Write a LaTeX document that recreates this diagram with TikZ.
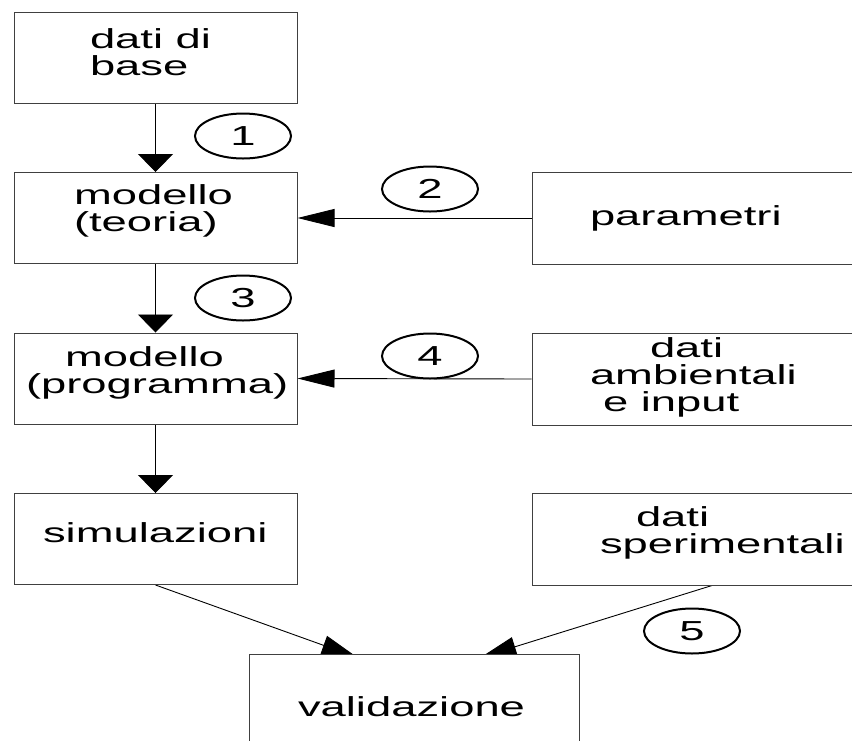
\documentclass[tikz,border=0pt]{standalone}
\usepackage{fontspec}
\usetikzlibrary{arrows.meta,shapes.geometric,calc}
\newfontfamily\wfont[FakeStretch=1.65]{Liberation Sans}
\newcommand\txtfont{\wfont\fontsize{27.5}{23.5}\selectfont}
\newcommand\numfont{\wfont\fontsize{27.5}{28}\selectfont}
\newcommand\boxtxt[3]{\makebox[0pt][l]{\hspace*{#1pt}\raisebox{#2pt}[0pt][0pt]{\begin{tabular}[b]{@{}l@{}}#3\end{tabular}}}}
\pgfdeclarelayer{bg}
\pgfsetlayers{bg,main}
\begin{document}
\begin{tikzpicture}[x=1pt,y=-1pt,
  bx/.style={rectangle,draw=black!75,line width=1pt,fill=white,inner sep=0pt,
    minimum width=283pt,minimum height=91pt,font=\txtfont},
  wbx/.style={bx,minimum width=360pt,minimum height=92pt},
  num/.style={ellipse,draw=black,line width=2pt,inner sep=0pt,
    minimum width=96pt,minimum height=45pt,font=\numfont},
  varr/.style={line width=0.9pt,-{Triangle[length=18pt,width=35pt]}},
  harr/.style={line width=0.9pt,-{Triangle[length=37pt,width=18pt]}},
  darr/.style={line width=0.9pt,-{Triangle[length=36pt,width=20pt]}}]
\useasboundingbox (0,0) rectangle (852,740);
\clip (0,0) rectangle (852,740);
% left column
\node[bx] (base) at (155.5,57.5) {\boxtxt{-65.5}{-18}{dati di\\base}};
\node[bx] (teo) at (155.5,218) {\boxtxt{-81.5}{-13}{modello\\(teoria)}};
\node[bx] (prog) at (155.5,378.5) {\boxtxt{-129.5}{-14.5}{\hspace*{39pt}modello\\(programma)}};
\node[bx] (sim) at (155.5,539) {\boxtxt{-112.5}{-3}{simulazioni}};
% right column
\node[wbx] (par) at (712,218) {\boxtxt{-122}{-7}{parametri}};
\node[wbx] (amb) at (712,379) {\boxtxt{-122}{-32}{\hspace*{60pt}dati\\ambientali\\\hspace*{13pt}e input}};
\node[wbx] (exp) at (712,539) {\boxtxt{-112}{-14}{\hspace*{36pt}dati\\sperimentali}};
% bottom
\node[bx,minimum width=330pt,minimum height=126pt] (val) at (414,717) {\boxtxt{-116}{1}{validazione}};
% numbered ellipses
\node[num] (n1) at (243,136) {1};
\node[num] (n2) at (430,189) {2};
\node[num] (n3) at (243,298) {3};
\node[num] (n4) at (430,356) {4};
\node[num] (n5) at (692,631) {5};
% tip points of the diagonal arrows (partly hidden by the box)
\coordinate (tl) at ($(val.north west)+(109,4)$);
\coordinate (tr) at ($(val.north west)+(232,4)$);
\begin{pgfonlayer}{bg}
\draw[varr] (base.south) -- (teo.north);
\draw[varr] (teo.south) -- (prog.north);
\draw[varr] (prog.south) -- (sim.north);
\draw[harr] (par.west) -- (teo.east);
\draw[harr] (amb.west) -- (prog.east);
\draw[darr] (sim.south) -- (tl);
\draw[darr] (exp.south) -- (tr);
\end{pgfonlayer}
\end{tikzpicture}
\end{document}
